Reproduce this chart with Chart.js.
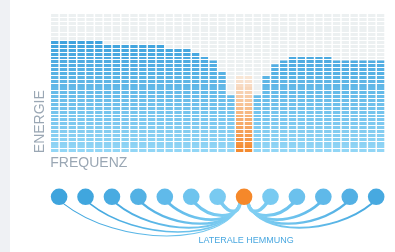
<!DOCTYPE html>
<html>
<head>
<meta charset="utf-8">
<script src="https://cdn.jsdelivr.net/npm/chart.js@4"></script>
<style>
  html, body { margin: 0; padding: 0; background: #fff; }
  #wrap { position: relative; width: 395px; height: 252px; overflow: hidden; }
  #strip { position: absolute; left: 0; top: 0; width: 10px; height: 252px; background: #eff1f4; }
  #bars { position: absolute; left: 0; top: 0; }
  #neurons { position: absolute; left: 0; top: 176px; }
</style>
</head>
<body>
<div id="wrap">
  <div id="strip"></div>
  <canvas id="bars" width="395" height="176"></canvas>
  <canvas id="neurons" width="395" height="76"></canvas>
</div>
<script>
// frequency bands (columns)
const bands = Array.from({ length: 38 }, (_, i) => String(i + 1));
// energy per band, in rows
const energy = [29, 29, 29, 29, 29, 29, 28, 28, 28, 28, 28, 28, 28, 27, 27, 27, 26, 25, 24, 21,
  15, null, null, 15, 20, 23, 24, 25, 25, 25, 25, 25, 24, 24, 24, 24, 24, 24];
// the stimulated band
const stimulus = [null, null, null, null, null, null, null, null, null, null, null, null, null, null, null, null, null, null, null, null,
  null, 20, 20, null, null, null, null, null, null, null, null, null, null, null, null, null, null, null];
const maxRows = 36;
const ceiling = bands.map(() => maxRows);

// neurons sit on band boundaries
const neurons = [1, 4, 7, 10, 13, 16, 19, 22, 25, 28, 31, 34, 37];
const activeNeuron = 7;
const neuronColors = ['#3ea4dd', '#40a6de', '#49abe1', '#53b1e4', '#60baea', '#6ec4ee', '#79caf1',
  '#f5882a', '#78caf1', '#6bc1ed', '#5fb9e9', '#53b0e4', '#47a9e0'];

const labelColor = '#9aa7b4';
const font = 'Liberation Sans, Arial, sans-serif';

function mix(a, b, t) {
  t = Math.max(0, Math.min(1, t));
  const pa = a.match(/\w\w/g).map(h => parseInt(h, 16));
  const pb = b.match(/\w\w/g).map(h => parseInt(h, 16));
  return 'rgb(' + pa.map((v, i) => Math.round(v + (pb[i] - v) * t)).join(',') + ')';
}

// horizontal striped fill, one stripe per row, colour chosen by row position
function stripes(chart, colorAt) {
  const { ctx, chartArea, scales } = chart;
  if (!chartArea) return null;
  const y = scales.y;
  const top = chartArea.top, h = chartArea.bottom - chartArea.top;
  const g = ctx.createLinearGradient(0, top, 0, chartArea.bottom);
  const off = px => Math.max(0, Math.min(1, (px - top) / h));
  for (let k = maxRows - 1; k >= 0; k--) {
    const y1 = y.getPixelForValue(k + 1);
    const y0 = y.getPixelForValue(k);
    const yEnd = y1 + (y0 - y1) * 0.76;
    const c = colorAt((y1 + yEnd) / 2);
    g.addColorStop(off(y1), c);
    g.addColorStop(off(yEnd), c);
    g.addColorStop(off(yEnd), 'rgba(255,255,255,0)');
    g.addColorStop(off(y0), 'rgba(255,255,255,0)');
  }
  return g;
}

const blueAt = py => mix('3ea2dd', '94d7f6', (py - 40) / 113);
const orangeAt = py => py < 115 ? mix('f8e6d6', 'f6b47c', (py - 77) / 38) : mix('f6b47c', 'f4872a', (py - 115) / 38);

new Chart(document.getElementById('bars'), {
  type: 'bar',
  data: {
    labels: bands,
    datasets: [
      { label: 'Stimulus', data: stimulus, grouped: false, backgroundColor: c => stripes(c.chart, orangeAt) },
      { label: 'Energie', data: energy, grouped: false, backgroundColor: c => stripes(c.chart, blueAt) },
      { label: 'Max', data: ceiling, grouped: false, backgroundColor: c => stripes(c.chart, () => '#ecf0f1') }
    ]
  },
  options: {
    responsive: false,
    animation: false,
    events: [],
    layout: { padding: { left: 27.5, right: 10, top: 14, bottom: 0 } },
    datasets: { bar: { categoryPercentage: 1, barPercentage: 0.83, borderWidth: 0 } },
    plugins: { legend: { display: false }, tooltip: { enabled: false } },
    scales: {
      x: {
        grid: { display: false, drawTicks: false },
        border: { display: false },
        ticks: { display: false },
        title: { display: true, text: 'FREQUENZ', align: 'start', color: labelColor, font: { family: font, size: 14 }, padding: { top: 2, bottom: 4 } }
      },
      y: {
        min: 0,
        max: maxRows,
        grid: { display: false, drawTicks: false },
        border: { display: false },
        ticks: { display: false },
        title: { display: true, text: 'ENERGIE', align: 'start', color: labelColor, font: { family: font, size: 14 }, padding: { top: 4, bottom: 2 } }
      }
    }
  }
});

// curved connections from the active neuron to its neighbours
const inhibition = {
  id: 'inhibition',
  beforeDatasetsDraw(chart) {
    const ctx = chart.ctx;
    const pts = chart.getDatasetMeta(0).data;
    const o = pts[activeNeuron];
    ctx.save();
    ctx.lineCap = 'round';
    pts.forEach((p, i) => {
      if (i === activeNeuron) return;
      const d = Math.abs(i - activeNeuron);
      const s = Math.sign(p.x - o.x);
      const adx = Math.abs(p.x - o.x);
      const x0 = o.x + s * 4, y0 = o.y + 6.5;
      const x3 = p.x - s * 4, y3 = p.y + 6.5;
      const hgt = (4 + 0.155 * adx) / 0.75;
      const g = ctx.createLinearGradient(x0, 0, x3, 0);
      g.addColorStop(0, '#82d0f3');
      g.addColorStop(1, neuronColors[i]);
      ctx.strokeStyle = g;
      ctx.lineWidth = Math.max(1, 3.6 - 0.42 * (d - 1));
      ctx.beginPath();
      ctx.moveTo(x0, y0);
      ctx.bezierCurveTo(x0 + s * 0.08 * adx, y0 + hgt, x3 - s * 0.3 * adx, y3 + hgt, x3, y3);
      ctx.stroke();
    });
    ctx.fillStyle = '#4aa8e0';
    ctx.font = '9px ' + font;
    ctx.textAlign = 'center';
    ctx.textBaseline = 'alphabetic';
    ctx.fillText('LATERALE HEMMUNG', o.x + 2, 66.7);
    ctx.restore();
  }
};

new Chart(document.getElementById('neurons'), {
  type: 'scatter',
  data: {
    datasets: [{
      label: 'Neuronen',
      data: neurons.map(b => ({ x: b, y: 0 })),
      pointRadius: 8.3,
      pointBorderWidth: 0,
      pointBackgroundColor: neuronColors,
      clip: false
    }]
  },
  options: {
    responsive: false,
    animation: false,
    events: [],
    layout: { padding: { left: 50.3, right: 10, top: 0, bottom: 0 } },
    plugins: { legend: { display: false }, tooltip: { enabled: false } },
    scales: {
      x: { type: 'linear', min: 0, max: bands.length, display: false },
      y: { min: -1, max: 3.75, reverse: true, display: false }
    }
  },
  plugins: [inhibition]
});
</script>
</body>
</html>
